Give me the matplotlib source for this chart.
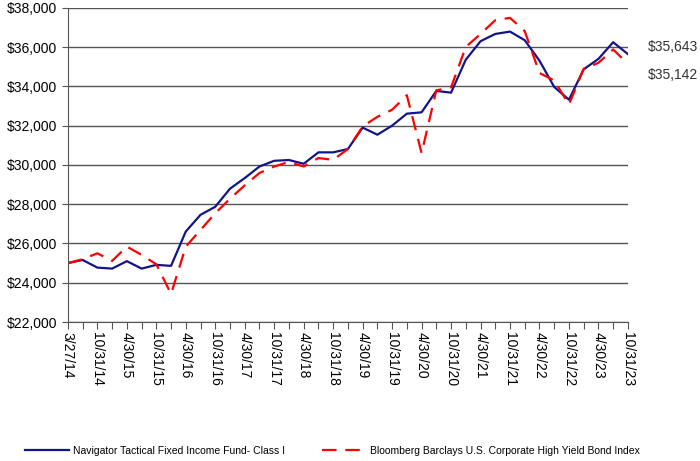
import matplotlib
matplotlib.use("Agg")
import matplotlib.pyplot as plt
from matplotlib.ticker import FuncFormatter

plt.rcParams['font.family'] = ['Liberation Sans', 'DejaVu Sans']

# 数据（按季度读取）
tick_labels = ["3/27/14", "10/31/14", "4/30/15", "10/31/15", "4/30/16", "10/31/16",
               "4/30/17", "10/31/17", "4/30/18", "10/31/18", "4/30/19", "10/31/19",
               "4/30/20", "10/31/20", "4/30/21", "10/31/21", "4/30/22", "10/31/22",
               "4/30/23", "10/31/23"]

fund = [25000, 25160, 24770, 24720, 25100, 24720, 24910, 24860, 26610, 27460,
        27870, 28790, 29330, 29920, 30210, 30250, 30060, 30640, 30640, 30810,
        31900, 31540, 32000, 32610, 32680, 33770, 33680, 35360, 36300, 36670,
        36790, 36350, 35310, 33970, 33320, 34870, 35400, 36250, 35643]

index = [25000, 25200, 25500, 25110, 25840, 25420, 24940, 23430, 25840, 26690,
         27540, 28280, 28960, 29590, 29920, 30150, 29920, 30350, 30260, 30810,
         31960, 32450, 32810, 33550, 30600, 33800, 33950, 36010, 36670, 37370,
         37490, 36810, 34680, 34300, 33070, 34900, 35200, 35880, 35142]

fund_name = "Navigator Tactical Fixed Income Fund- Class I"
index_name = "Bloomberg Barclays U.S. Corporate High Yield Bond Index"


def make_chart():
    fig = plt.figure(figsize=(7, 4.61), dpi=100)
    ax = fig.add_axes([0.097, 0.3015, 0.8, 0.6815])

    x = list(range(len(fund)))
    l1, = ax.plot(x, fund, color='#14148a', lw=1.6, label=fund_name)
    l2, = ax.plot(x, index, color='#ff0000', lw=1.6, dashes=(6.5, 4), label=index_name)

    ax.set_xlim(0, len(fund) - 1)
    ax.set_ylim(22000, 38000)
    ax.set_yticks(range(22000, 38001, 2000))
    ax.yaxis.set_major_formatter(FuncFormatter(lambda v, p: f"${v:,.0f}"))
    ax.grid(axis='y', color='#555555', lw=1.0)
    ax.set_axisbelow(True)

    ax.set_xticks(x)
    ax.set_xticklabels([tick_labels[i // 2] if i % 2 == 0 else "" for i in x],
                       rotation=-90, fontsize=10)
    ax.tick_params(axis='y', labelsize=10, length=4, color='#555555')
    ax.tick_params(axis='x', length=5, color='#555555', pad=2)

    for s in ['top', 'right']:
        ax.spines[s].set_visible(False)
    for s in ['left', 'bottom']:
        ax.spines[s].set_color('#555555')

    # 末端数值标签
    ax.annotate(f"${fund[-1]:,}", (x[-1], fund[-1]), xytext=(14, 5),
                textcoords='offset points', fontsize=10, va='center', color='#333333',
                annotation_clip=False)
    ax.annotate(f"${index[-1]:,}", (x[-1], index[-1]), xytext=(14, -8),
                textcoords='offset points', fontsize=10, va='center', color='#333333',
                annotation_clip=False)

    fig.legend(handles=[l1, l2], loc='center', bbox_to_anchor=(0.475, 0.022), ncol=2,
               frameon=False, fontsize=7.5, handlelength=4.2, columnspacing=3.6,
               handletextpad=0.4)

    fig.savefig("out.png", dpi=100)


if __name__ == "__main__":
    make_chart()
